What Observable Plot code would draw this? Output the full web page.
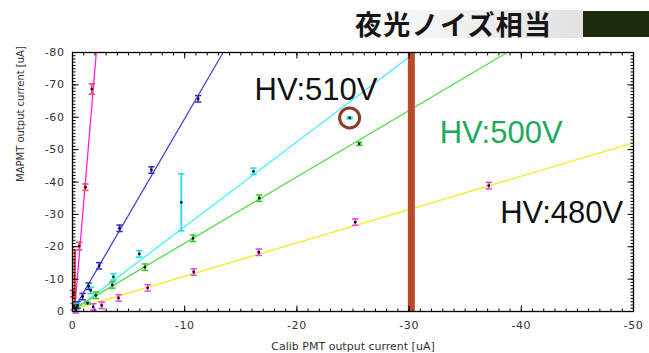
<!DOCTYPE html>
<html><head><meta charset="utf-8">
<script src="https://cdn.jsdelivr.net/npm/d3@7"></script>
<script src="https://cdn.jsdelivr.net/npm/@observablehq/plot@0.6"></script>
<style>
body{margin:0;background:#fff;}
#wrap{position:relative;width:649px;height:353px;overflow:hidden;background:#fff;}
#title{position:absolute;left:340px;top:10px;width:243px;height:28px;background:linear-gradient(to right,#ffffff,#e2e2e2);}
#title span{position:absolute;left:15px;top:0px;line-height:28px;font-family:"Noto Sans CJK JP";font-size:27px;font-weight:700;color:#151515;white-space:nowrap;letter-spacing:1.3px;}
#box{position:absolute;left:583px;top:11px;width:66px;height:26px;background:#1b2a0c;}
[aria-label="x-axis tick label"] text,[aria-label="y-axis tick label"] text{letter-spacing:0.6px;}
</style></head><body>
<div id="wrap"><div id="chart"></div><div id="title"><span>夜光ノイズ相当</span></div><div id="box"></div></div>
<script>
// ---- data (x: Calib PMT current, y: MAPMT current, e: error) ----
const seriesNames = ["s_steep", "s_vert", "s_510a", "s_510", "s_500", "s_480"];
const lineColors  = ["#ff22dd", "#ff2020", "#4444d8", "#44eeff", "#55dd44", "#eeee22"];
const barColors   = ["#ff4466", "#ff3030", "#3333cc", "#22dde8", "#33cc33", "#ee44ee"];
// fit lines y = slope * x + intercept, drawn from xStart
const slopes     = [41.2, null, 5.96, 2.62, 2.05, 1.03];
const intercepts = [7.4, null, 0, 0, -0.6, -0.6];
const xStarts    = [-0.18, null, 0, 0, -0.1, -0.6];
const redSegment = [{x: -0.2, y: 0}, {x: -0.2, y: -19}];

const steepPts   = [[-0.1,-1.5,1],[-0.6,-20.2,1.2],[-1.15,-38.4,1],[-1.72,-68.7,1.6]];
const vertPts    = [[-0.05,-5.5,1]];
const bluePts    = [[-0.45,-2.0,1],[-0.9,-4.6,1],[-1.43,-7.8,1],[-2.38,-14.1,1],[-4.2,-25.7,1],[-7.03,-43.7,1],[-11.2,-65.7,1]];
const cyanPts    = [[-0.4,-1.5,1],[-1.63,-6.5,1],[-3.65,-10.7,1],[-5.95,-17.8,1],[-9.7,-33.7,8.8],[-16.13,-43.3,1],[-24.7,-59.8,0.3]];
const greenPts   = [[-0.3,-1.0,1],[-1.34,-2.6,0.3],[-2.08,-5.0,1],[-3.55,-8.2,1],[-6.45,-13.7,1],[-10.74,-22.6,1],[-16.65,-35.0,1],[-25.56,-51.8,0.5]];
const yellowPts  = [[-0.3,-0.5,1],[-1.85,-1.4,1],[-2.6,-1.9,1],[-4.1,-4.2,1],[-6.7,-7.3,1],[-10.8,-12.2,1],[-16.6,-18.3,1],[-25.2,-27.6,1],[-37.1,-38.9,1]];
const allPts = [steepPts, vertPts, bluePts, cyanPts, greenPts, yellowPts];

const xTickLabels = [0, -10, -20, -30, -40, -50];
const yTickLabels = [0, -10, -20, -30, -40, -50, -60, -70, -80];
const xLabel = "Calib PMT output current [uA]";
const yLabel = "MAPMT output current [uA]";
const nightSkyLevel = [-30.2];
const circled = [{x: -24.7, y: -59.8}];
const annotations = [
  {x: -21.7, y: -68.4, text: "HV:510V", color: "#111111"},
  {x: -38.2, y: -55.2, text: "HV:500V", color: "#1eaa5c"},
  {x: -43.6, y: -30.4, text: "HV:480V", color: "#111111"}
];

// ---- build tables ----
const X0 = 0, X1 = -50, Y0 = 0, Y1 = -80;
const fitLines = [];
slopes.forEach((a, i) => {
  if (a == null) return;
  const b = intercepts[i];
  const xs = xStarts[i];
  const xe = Math.max(X1, (Y1 - b) / a);
  fitLines.push({s: seriesNames[i], c: lineColors[i], x: xs, y: a * xs + b});
  fitLines.push({s: seriesNames[i], c: lineColors[i], x: xe, y: a * xe + b});
});
const points = [];
allPts.forEach((arr, i) => arr.forEach(([x, y, e]) => points.push({s: seriesNames[i], x, y, e, bar: barColors[i]})));

const seg = (dx, dy) => ({draw(ctx) { ctx.moveTo(0, 0); ctx.lineTo(dx, dy); }});
const capSym = {draw(ctx) { ctx.moveTo(-3.2, 0); ctx.lineTo(3.2, 0); }};
const xMinor = d3.range(0, -50.5, -1), xMajor = d3.range(0, -50.5, -10);
const yMinor = d3.range(0, -80.5, -1), yMajor = d3.range(0, -80.5, -10);
const fmt = d => d === 0 ? "0" : "-" + Math.abs(d);
const tk = {fill: "none", stroke: "#000", strokeWidth: 1, r: 1};

const chart = Plot.plot({
  width: 649, height: 353,
  marginLeft: 72, marginRight: 16, marginTop: 52, marginBottom: 42,
  style: {fontFamily: "DejaVu Sans", color: "#333", background: "transparent"},
  x: {domain: [X0, X1]},
  y: {domain: [Y0, Y1]},
  marks: [
    Plot.line(fitLines, {x: "x", y: "y", z: "s", stroke: "c", strokeWidth: 1.3}),
    Plot.line(redSegment, {x: "x", y: "y", stroke: "#ff2020", strokeWidth: 2}),
    Plot.ruleX(points, {x: "x", y1: d => d.y - d.e, y2: d => d.y + d.e, stroke: "bar", strokeWidth: 1.8}),
    Plot.dot(points, {x: "x", y: d => d.y - d.e, symbol: capSym, stroke: "bar", fill: "none", strokeWidth: 1.5, r: 1}),
    Plot.dot(points, {x: "x", y: d => d.y + d.e, symbol: capSym, stroke: "bar", fill: "none", strokeWidth: 1.5, r: 1}),
    Plot.dot(points, {x: "x", y: "y", fill: "#111", r: 1.4}),
    Plot.ruleX(nightSkyLevel, {stroke: "#bb4a28", strokeWidth: 7}),
    Plot.dot(circled, {x: "x", y: "y", r: 10, stroke: "#8b3a26", strokeWidth: 3, fill: "none"}),
    Plot.text(annotations, {x: "x", y: "y", text: "text", fill: "color", fontSize: 31, fontFamily: "Liberation Sans", textAnchor: "middle", lineAnchor: "middle"}),
    // inward minor / major ticks on all four sides
    Plot.dot(xMinor, {x: d => d, y: () => Y0, symbol: seg(0, -3), ...tk}),
    Plot.dot(xMajor, {x: d => d, y: () => Y0, symbol: seg(0, -6), ...tk}),
    Plot.dot(xMinor, {x: d => d, y: () => Y1, symbol: seg(0, 3), ...tk}),
    Plot.dot(xMajor, {x: d => d, y: () => Y1, symbol: seg(0, 6), ...tk}),
    Plot.dot(yMinor, {y: d => d, x: () => X0, symbol: seg(3, 0), ...tk}),
    Plot.dot(yMajor, {y: d => d, x: () => X0, symbol: seg(6, 0), ...tk}),
    Plot.dot(yMinor, {y: d => d, x: () => X1, symbol: seg(-3, 0), ...tk}),
    Plot.dot(yMajor, {y: d => d, x: () => X1, symbol: seg(-6, 0), ...tk}),
    Plot.frame({stroke: "#000", strokeWidth: 1.3}),
    Plot.axisX(xTickLabels, {tickSize: 0, tickPadding: 10, tickFormat: fmt, fontSize: 11, label: null}),
    Plot.axisY(yTickLabels, {tickSize: 0, tickPadding: 8, tickFormat: fmt, fontSize: 11, label: null}),
    Plot.text([xLabel], {frameAnchor: "bottom", dy: 35, text: d => d, fontSize: 11, fill: "#333", lineAnchor: "middle"}),
    Plot.text([yLabel], {frameAnchor: "left", dx: -52, rotate: -90, text: d => d, fontSize: 10, fill: "#333", lineAnchor: "middle"})
  ]
});
document.getElementById("chart").appendChild(chart);
</script>
</body></html>
